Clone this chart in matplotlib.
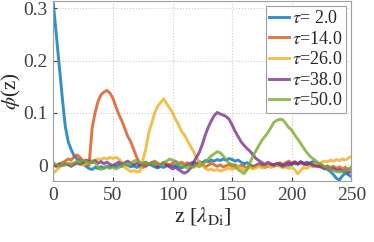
import numpy as np
import matplotlib.pyplot as plt

plt.rcParams['font.family'] = ['Liberation Serif', 'DejaVu Serif']
plt.rcParams['mathtext.fontset'] = 'stix'

# z positions of the samples [lambda_Di]
z = np.arange(0, 250.1, 2.5)

tau = [2.0, 14.0, 26.0, 38.0, 50.0]

phi_2 = [0.31, 0.25, 0.19, 0.13, 0.075, 0.045, 0.03, 0.018, 0.012, 0.01,
         0.004, -0.002, -0.006, -0.008, -0.004, -0.006, -0.003, -0.005, -0.002, -0.004,
         -0.001, -0.003, 0.000, -0.002, 0.002, 0.000, -0.003, -0.001, -0.004, -0.002,
         0.001, -0.001, 0.002, 0.000, -0.003, -0.005, -0.002, -0.004, -0.001, 0.001,
         -0.002, 0.000, -0.003, -0.005, -0.002, 0.001, 0.004, 0.006, 0.003, 0.007,
         0.005, 0.009, 0.007, 0.010, 0.008, 0.011, 0.009, 0.012, 0.010, 0.013,
         0.011, 0.008, 0.010, 0.006, 0.003, 0.005, 0.001, -0.002, 0.000, 0.003,
         0.001, -0.002, 0.001, -0.001, 0.002, 0.000, 0.003, 0.001, -0.002, 0.000,
         0.002, 0.004, 0.002, 0.005, 0.003, 0.006, 0.004, 0.007, 0.005, 0.003,
         0.000, -0.004, -0.008, -0.012, -0.018, -0.025, -0.028, -0.020, -0.015, -0.018,
         -0.022]

phi_14 = [0.002, -0.001, 0.003, 0.005, 0.008, 0.012, 0.010, 0.016, 0.020, 0.015,
          0.008, 0.002, 0.000, 0.070, 0.100, 0.122, 0.135, 0.140, 0.143, 0.138,
          0.128, 0.112, 0.097, 0.085, 0.070, 0.055, 0.045, 0.030, 0.015, 0.004,
          -0.004, -0.002, 0.002, 0.005, 0.008, 0.004, 0.001, 0.006, 0.003, 0.000,
          0.004, 0.007, 0.003, 0.006, 0.002, 0.005, 0.001, -0.002, 0.002, 0.005,
          0.001, -0.003, 0.000, 0.004, 0.001, -0.002, 0.001, -0.003, -0.001, 0.002,
          -0.002, 0.001, -0.003, 0.000, -0.002, -0.005, -0.002, -0.004, -0.001, 0.002,
          -0.001, -0.004, -0.002, 0.001, -0.002, 0.002, 0.005, 0.002, 0.005, 0.008,
          0.004, 0.007, 0.003, 0.006, 0.002, 0.004, 0.001, -0.002, 0.001, -0.003,
          0.000, -0.004, -0.001, -0.005, -0.002, -0.006, -0.003, -0.007, -0.004, -0.008,
          -0.005]

phi_26 = [-0.015, -0.010, -0.004, 0.000, 0.003, 0.001, 0.004, 0.002, 0.005, 0.003,
          0.000, 0.003, 0.005, 0.008, 0.010, 0.012, 0.011, 0.014, 0.012, 0.015,
          0.013, 0.015, 0.012, 0.006, -0.004, -0.008, -0.012, -0.010, -0.012, -0.012,
          0.010, 0.030, 0.062, 0.080, 0.100, 0.113, 0.120, 0.127, 0.118, 0.110,
          0.100, 0.088, 0.078, 0.065, 0.058, 0.047, 0.037, 0.027, 0.015, 0.006,
          0.000, -0.006, -0.009, -0.007, -0.010, -0.008, -0.011, -0.009, -0.007, -0.005,
          -0.008, -0.005, -0.002, -0.006, -0.009, -0.007, -0.004, -0.007, -0.005, -0.002,
          -0.005, -0.003, -0.001, -0.004, -0.002, 0.001, -0.002, -0.005, -0.003, -0.006,
          -0.004, -0.008, -0.016, -0.010, -0.004, -0.006, -0.002, 0.001, 0.004, 0.002,
          0.006, 0.008, 0.007, 0.010, 0.008, 0.011, 0.009, 0.012, 0.010, 0.014,
          0.017]

phi_38 = [0.000, -0.002, 0.002, 0.000, 0.003, 0.001, -0.002, 0.002, 0.005, 0.002,
          0.006, 0.010, 0.008, 0.005, 0.009, 0.004, 0.007, 0.003, 0.006, 0.002,
          -0.001, 0.003, 0.006, 0.002, 0.005, 0.008, 0.004, 0.001, 0.004, 0.000,
          0.003, 0.006, 0.002, 0.005, 0.001, -0.003, 0.001, 0.004, 0.000, -0.003,
          -0.007, -0.004, -0.008, -0.012, -0.015, -0.012, -0.006, 0.005, 0.015, 0.025,
          0.040, 0.058, 0.073, 0.085, 0.095, 0.101, 0.098, 0.096, 0.093, 0.088,
          0.077, 0.065, 0.055, 0.045, 0.038, 0.032, 0.027, 0.020, 0.013, 0.009,
          0.005, 0.002, 0.006, 0.003, 0.000, 0.004, 0.001, -0.002, 0.002, 0.005,
          0.002, 0.006, 0.003, 0.007, 0.004, 0.001, 0.004, 0.001, -0.002, -0.001,
          -0.004, -0.007, -0.004, -0.008, -0.006, -0.010, -0.008, -0.012, -0.010, -0.014,
          -0.012]

phi_50 = [0.005, 0.002, -0.002, 0.003, 0.000, 0.004, 0.001, 0.005, 0.008, 0.005,
          0.010, 0.007, 0.004, 0.008, 0.005, -0.004, -0.008, -0.006, -0.003, -0.006,
          -0.003, -0.007, -0.004, 0.000, 0.003, 0.000, 0.004, 0.008, 0.010, 0.006,
          0.003, 0.006, 0.002, 0.005, 0.001, 0.004, 0.000, 0.004, 0.008, 0.012,
          0.010, 0.008, 0.004, 0.000, -0.003, -0.005, -0.002, -0.004, 0.000, -0.003,
          0.002, 0.006, 0.012, 0.018, 0.022, 0.026, 0.024, 0.018, 0.010, 0.004,
          0.002, -0.003, -0.008, -0.012, -0.016, -0.008, 0.005, 0.018, 0.028, 0.038,
          0.048, 0.055, 0.063, 0.072, 0.082, 0.086, 0.088, 0.087, 0.080, 0.072,
          0.067, 0.058, 0.050, 0.042, 0.033, 0.025, 0.018, 0.013, 0.009, 0.004,
          0.002, -0.003, -0.005, -0.008, -0.010, -0.012, -0.013, -0.012, -0.011, -0.008,
          -0.003]

series = [phi_2, phi_14, phi_26, phi_38, phi_50]
colors = ['#0072BD', '#D95319', '#EDB120', '#7E2F8E', '#77AC30']

fig = plt.figure(figsize=(3.74, 2.42), dpi=100)
ax = fig.add_axes([0.1425, 0.252, 0.797, 0.744])

for t, phi, c in zip(tau, series, colors):
    ax.plot(z, phi, color=c, lw=2.1, alpha=0.8, label=r'$\tau$=' + ('%4.1f' % t).replace('  ', ' '))

ax.set_xlim(0, 250)
ax.set_ylim(-0.03, 0.314)
ax.set_xticks([0, 50, 100, 150, 200, 250])
ax.set_yticks([0, 0.1, 0.2, 0.3])
ax.set_yticklabels(['0', '0.1', '0.2', '0.3'])
ax.grid(True, color='#cccccc', linestyle=':', linewidth=0.8)
ax.tick_params(direction='in', length=3, labelsize=14, colors='#404040', pad=4)
for s in ax.spines.values():
    s.set_color('#a0a0a0')
    s.set_linewidth(0.8)

ax.set_xlabel(r'z [$\lambda_{\mathrm{Di}}$]', fontsize=16, color='#262626', labelpad=1)
ax.set_ylabel(r'$\phi$(z)', fontsize=15, color='#262626', labelpad=0)

leg = ax.legend(loc='upper right', fontsize=13, handlelength=1.1, handletextpad=0.15,
                borderpad=0.2, labelspacing=0.2, borderaxespad=0.3, fancybox=False,
                framealpha=1, edgecolor='#a0a0a0')
leg.get_frame().set_linewidth(0.8)
for txt in leg.get_texts():
    txt.set_color('#262626')

fig.savefig('out.png', dpi=100)
